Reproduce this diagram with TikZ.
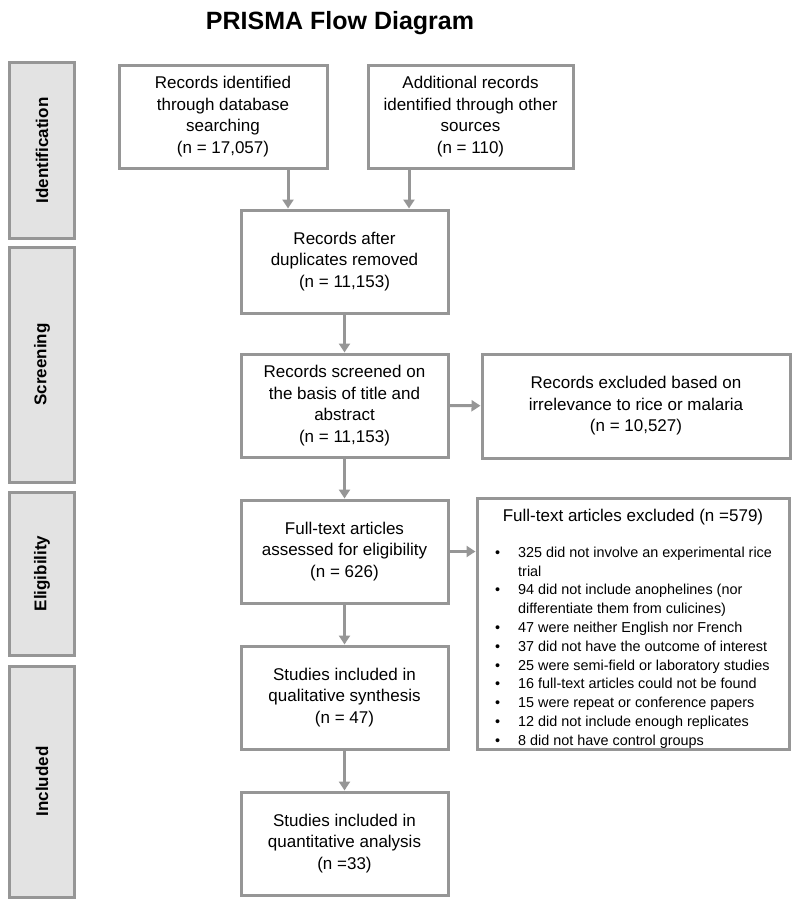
\documentclass[tikz,border=0pt]{standalone}
\usepackage{fontspec}
\setmainfont{Liberation Sans}
\usetikzlibrary{arrows.meta}
\definecolor{lgray}{HTML}{969696}
\definecolor{barfill}{HTML}{E3E3E3}
\tikzset{
  box/.style={draw=lgray, line width=3bp, fill=white, align=center, inner sep=0pt,
    minimum height=103bp, font=\fontsize{17bp}{21.5bp}\selectfont},
  sidebar/.style={draw=lgray, line width=3bp, fill=barfill, inner sep=0pt,
    minimum width=64bp},
  sidelabel/.style={font=\fontsize{17bp}{20bp}\selectfont\bfseries, rotate=90},
  arr/.style={draw=lgray, line width=3bp, -{Triangle[width=11bp,length=9bp]}},
}
\begin{document}
\begin{tikzpicture}[x=1bp,y=-1bp]
\useasboundingbox (0,0) rectangle (800,906);
% title
\node[anchor=base, font=\fontsize{25bp}{30bp}\selectfont\bfseries] (title) at (340,29) {PRISMA Flow Diagram};
% side bars
\node[sidebar, minimum height=175bp] (s1) at (42,150.5) {};
\node[sidelabel] (l1) at (s1.center) {Identification};
\node[sidebar, minimum height=235bp] (s2) at (42,364.5) {};
\node[sidelabel] (l2) at (s2.center) {Screening};
\node[sidebar, minimum height=163bp] (s3) at (42,573.5) {};
\node[sidelabel] (l3) at (s3.center) {Eligibility};
\node[sidebar, minimum height=231bp] (s4) at (42,781.5) {};
\node[sidelabel] (l4) at (s4.center) {Included};
% boxes
\node[box, minimum width=208bp] (b1) at (223,116.5) {Records identified\\through database\\searching\\(n = 17,057)};
\node[box, minimum width=205bp] (b2) at (470.5,116.5) {Additional records\\identified through other\\sources\\(n = 110)};
\node[box, minimum width=207bp] (b3) at (344.5,261.5) {Records after\\duplicates removed\\(n = 11,153)};
\node[box, minimum width=207bp] (b4) at (344.5,405.5) {Records screened on\\the basis of title and\\abstract\\(n = 11,153)};
\node[box, minimum width=308bp, minimum height=104bp] (e1) at (636,406) {Records excluded based on\\irrelevance to rice or malaria\\(n = 10,527)};
\node[box, minimum width=207bp] (b5) at (344.5,551.5) {Full-text articles\\assessed for eligibility\\(n = 626)};
\node[box, minimum width=312bp, minimum height=251bp] (e2) at (633,623.5) {};
\node[anchor=base, font=\fontsize{17bp}{21.5bp}\selectfont] (e2t) at (633,521) {Full-text articles excluded (n =579)};
\node[anchor=north west, inner sep=0pt, font=\fontsize{14.4bp}{18.8bp}\selectfont] (e2l) at (495,544)
{\begin{tabular}{@{}p{23bp}@{}l@{}}
\textbullet & 325 did not involve an experimental rice\\
 & trial\\
\textbullet & 94 did not include anophelines (nor\\
 & differentiate them from culicines)\\
\textbullet & 47 were neither English nor French\\
\textbullet & 37 did not have the outcome of interest\\
\textbullet & 25 were semi-field or laboratory studies\\
\textbullet & 16 full-text articles could not be found\\
\textbullet & 15 were repeat or conference papers\\
\textbullet & 12 did not include enough replicates\\
\textbullet & 8 did not have control groups
\end{tabular}};
\node[box, minimum width=207bp] (b6) at (344.5,697.5) {Studies included in\\qualitative synthesis\\(n = 47)};
\node[box, minimum width=207bp] (b7) at (344.5,843.5) {Studies included in\\quantitative analysis\\(n =33)};
% arrows
\coordinate (a1) at (288,0);
\coordinate (a2) at (409,0);
\draw[arr] (b1.south -| a1) -- (b3.north -| a1);
\draw[arr] (b2.south -| a2) -- (b3.north -| a2);
\draw[arr] (b3) -- (b4);
\draw[arr] (b4) -- (e1);
\draw[arr] (b4) -- (b5);
\draw[arr] (b5.east) -- (b5.east -| e2.west);
\draw[arr] (b5) -- (b6);
\draw[arr] (b6) -- (b7);
\end{tikzpicture}
\end{document}
